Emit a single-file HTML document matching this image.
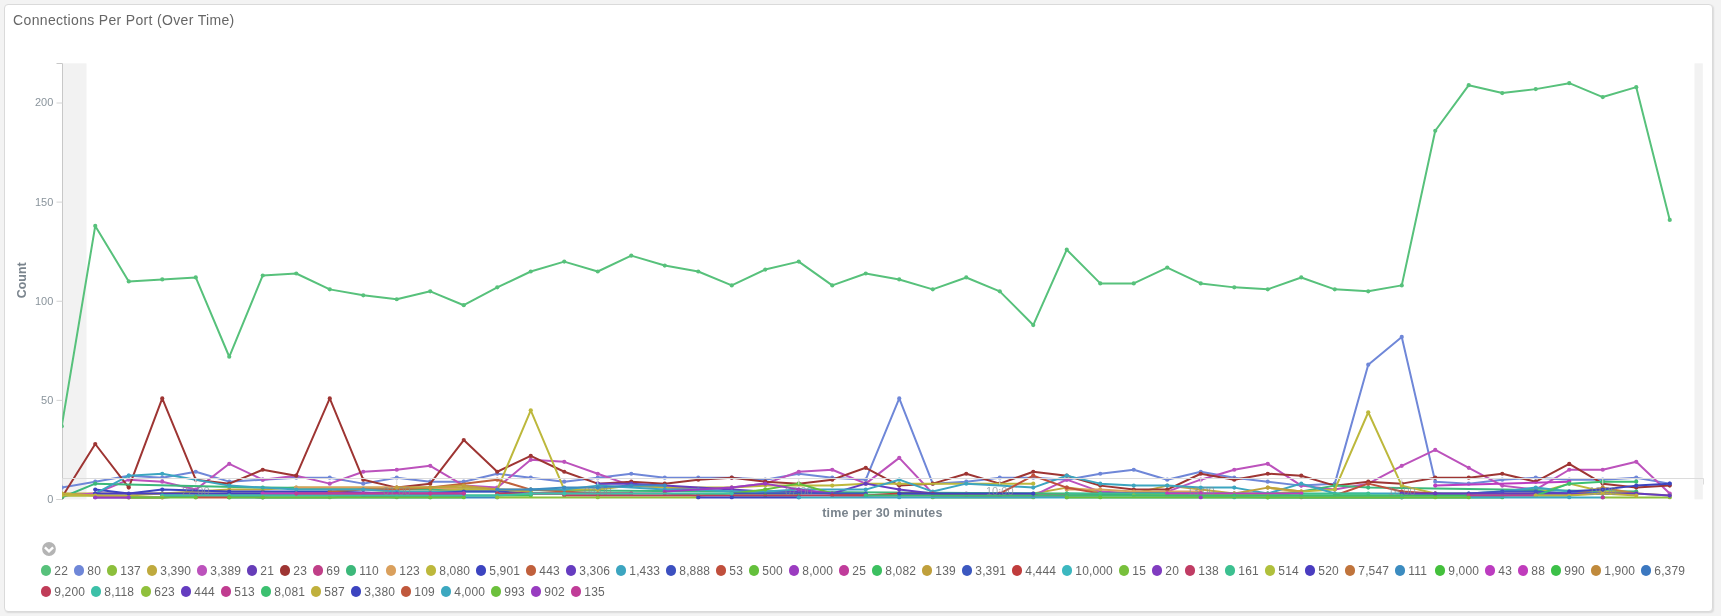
<!DOCTYPE html>
<html lang="en"><head><meta charset="utf-8"><title>Connections Per Port (Over Time)</title>
<style>
html,body{margin:0;padding:0}
body{width:1721px;height:616px;overflow:hidden;background:#f3f3f3;font-family:"Liberation Sans",sans-serif;position:relative}
.panel{position:absolute;left:4px;top:4px;width:1707px;height:606px;background:#fff;border:1px solid #dadada;border-radius:4px;box-sizing:content-box;box-shadow:1px 1px 1.5px rgba(0,0,0,.1)}
.title{position:absolute;left:13.1px;top:11.75px;font-size:14px;line-height:16px;color:#666;letter-spacing:.333px;white-space:nowrap}
.wrap{position:absolute;left:0;top:0;width:1721px;height:616px;will-change:transform}
.chart{position:absolute;left:0;top:0}
.dot{position:absolute;width:10.3px;height:10.3px;border-radius:50%}
.lb{position:absolute;font-size:12px;line-height:15px;color:#666;letter-spacing:.12px;white-space:nowrap}
.tog{position:absolute;left:42px;top:542.2px;width:14px;height:14px}
</style></head><body>
<div class="wrap">
<div class="panel"></div>
<div class="title">Connections Per Port (Over Time)</div>
<svg class="chart" width="1721" height="616" viewBox="0 0 1721 616">
<defs><clipPath id="cp"><rect x="62.2" y="60" width="1648" height="439.6"/></clipPath></defs>
<rect x="63" y="63.3" width="23.5" height="436.1" fill="#f2f2f2"/>
<rect x="1694.5" y="63.3" width="8.3" height="436.1" fill="#f2f2f2"/>
<g class="yaxis" font-family="'Liberation Sans', sans-serif" font-size="11" fill="#8a949c">
<path d="M56.5,63.5H62.5V499.5H56.5" fill="none" stroke="#c8c8c8" stroke-width="1"/>
<line x1="56.5" x2="62.5" y1="499.50" y2="499.50" stroke="#d4d4d4" stroke-width="1"/>
<text x="53.3" y="502.90" text-anchor="end">0</text>
<line x1="56.5" x2="62.5" y1="400.38" y2="400.38" stroke="#d4d4d4" stroke-width="1"/>
<text x="53.3" y="403.77" text-anchor="end">50</text>
<line x1="56.5" x2="62.5" y1="301.25" y2="301.25" stroke="#d4d4d4" stroke-width="1"/>
<text x="53.3" y="304.65" text-anchor="end">100</text>
<line x1="56.5" x2="62.5" y1="202.12" y2="202.12" stroke="#d4d4d4" stroke-width="1"/>
<text x="53.3" y="205.53" text-anchor="end">150</text>
<line x1="56.5" x2="62.5" y1="103.00" y2="103.00" stroke="#d4d4d4" stroke-width="1"/>
<text x="53.3" y="106.40" text-anchor="end">200</text>
</g>
<text transform="translate(26.3,280.3) rotate(-90)" text-anchor="middle" font-family="'Liberation Sans', sans-serif" font-size="12.4" font-weight="bold" fill="#7a848d">Count</text>
<text x="882.4" y="516.8" text-anchor="middle" font-family="'Liberation Sans', sans-serif" font-size="12.5" font-weight="bold" fill="#7a848d" letter-spacing="0.15">time per 30 minutes</text>
<g clip-path="url(#cp)" fill="none" stroke-width="2" stroke-linejoin="round" stroke-linecap="butt">
<g stroke="#57c17b">
<polyline points="61.75,426.15 95.25,225.92 128.75,281.43 162.25,279.44 195.75,277.46 229.25,356.76 262.75,275.48 296.25,273.50 329.75,289.36 363.25,295.30 396.75,299.27 430.25,291.34 463.75,305.22 497.25,287.37 530.75,271.51 564.25,261.60 597.75,271.51 631.25,255.65 664.75,265.56 698.25,271.51 731.75,285.39 765.25,269.53 798.75,261.60 832.25,285.39 865.75,273.50 899.25,279.44 932.75,289.36 966.25,277.46 999.75,291.34 1033.25,325.04 1066.75,249.71 1100.25,283.41 1133.75,283.41 1167.25,267.55 1200.75,283.41 1234.25,287.37 1267.75,289.36 1301.25,277.46 1334.75,289.36 1368.25,291.34 1401.75,285.39 1435.25,130.75 1468.75,85.16 1502.25,93.09 1535.75,89.12 1569.25,83.18 1602.75,97.05 1636.25,87.14 1669.75,219.97"/>
</g>
<g fill="#57c17b" stroke="none">
<circle cx="61.75" cy="426.15" r="2.1"/>
<circle cx="95.25" cy="225.92" r="2.1"/>
<circle cx="128.75" cy="281.43" r="2.1"/>
<circle cx="162.25" cy="279.44" r="2.1"/>
<circle cx="195.75" cy="277.46" r="2.1"/>
<circle cx="229.25" cy="356.76" r="2.1"/>
<circle cx="262.75" cy="275.48" r="2.1"/>
<circle cx="296.25" cy="273.50" r="2.1"/>
<circle cx="329.75" cy="289.36" r="2.1"/>
<circle cx="363.25" cy="295.30" r="2.1"/>
<circle cx="396.75" cy="299.27" r="2.1"/>
<circle cx="430.25" cy="291.34" r="2.1"/>
<circle cx="463.75" cy="305.22" r="2.1"/>
<circle cx="497.25" cy="287.37" r="2.1"/>
<circle cx="530.75" cy="271.51" r="2.1"/>
<circle cx="564.25" cy="261.60" r="2.1"/>
<circle cx="597.75" cy="271.51" r="2.1"/>
<circle cx="631.25" cy="255.65" r="2.1"/>
<circle cx="664.75" cy="265.56" r="2.1"/>
<circle cx="698.25" cy="271.51" r="2.1"/>
<circle cx="731.75" cy="285.39" r="2.1"/>
<circle cx="765.25" cy="269.53" r="2.1"/>
<circle cx="798.75" cy="261.60" r="2.1"/>
<circle cx="832.25" cy="285.39" r="2.1"/>
<circle cx="865.75" cy="273.50" r="2.1"/>
<circle cx="899.25" cy="279.44" r="2.1"/>
<circle cx="932.75" cy="289.36" r="2.1"/>
<circle cx="966.25" cy="277.46" r="2.1"/>
<circle cx="999.75" cy="291.34" r="2.1"/>
<circle cx="1033.25" cy="325.04" r="2.1"/>
<circle cx="1066.75" cy="249.71" r="2.1"/>
<circle cx="1100.25" cy="283.41" r="2.1"/>
<circle cx="1133.75" cy="283.41" r="2.1"/>
<circle cx="1167.25" cy="267.55" r="2.1"/>
<circle cx="1200.75" cy="283.41" r="2.1"/>
<circle cx="1234.25" cy="287.37" r="2.1"/>
<circle cx="1267.75" cy="289.36" r="2.1"/>
<circle cx="1301.25" cy="277.46" r="2.1"/>
<circle cx="1334.75" cy="289.36" r="2.1"/>
<circle cx="1368.25" cy="291.34" r="2.1"/>
<circle cx="1401.75" cy="285.39" r="2.1"/>
<circle cx="1435.25" cy="130.75" r="2.1"/>
<circle cx="1468.75" cy="85.16" r="2.1"/>
<circle cx="1502.25" cy="93.09" r="2.1"/>
<circle cx="1535.75" cy="89.12" r="2.1"/>
<circle cx="1569.25" cy="83.18" r="2.1"/>
<circle cx="1602.75" cy="97.05" r="2.1"/>
<circle cx="1636.25" cy="87.14" r="2.1"/>
<circle cx="1669.75" cy="219.97" r="2.1"/>
</g>
<g stroke="#6f87d8">
<polyline points="61.75,487.61 95.25,481.66 128.75,475.71 162.25,477.69 195.75,471.75 229.25,481.66 262.75,479.68 296.25,477.69 329.75,477.69 363.25,483.64 396.75,477.69 430.25,481.66 463.75,481.66 497.25,473.73 530.75,477.69 564.25,481.66 597.75,477.69 631.25,473.73 664.75,477.69 698.25,477.69 731.75,477.69 765.25,479.68 798.75,473.73 832.25,477.69 865.75,479.68 899.25,398.39 932.75,483.64 966.25,481.66 999.75,477.69 1033.25,477.69 1066.75,479.68 1100.25,473.73 1133.75,469.76 1167.25,479.68 1200.75,471.75 1234.25,477.69 1267.75,481.66 1301.25,485.62 1334.75,483.64 1368.25,364.69 1401.75,336.94 1435.25,481.66 1468.75,483.64 1502.25,479.68 1535.75,477.69 1569.25,479.68 1602.75,479.68 1636.25,477.69 1669.75,483.64"/>
</g>
<g fill="#6f87d8" stroke="none">
<circle cx="61.75" cy="487.61" r="2.1"/>
<circle cx="95.25" cy="481.66" r="2.1"/>
<circle cx="128.75" cy="475.71" r="2.1"/>
<circle cx="162.25" cy="477.69" r="2.1"/>
<circle cx="195.75" cy="471.75" r="2.1"/>
<circle cx="229.25" cy="481.66" r="2.1"/>
<circle cx="262.75" cy="479.68" r="2.1"/>
<circle cx="296.25" cy="477.69" r="2.1"/>
<circle cx="329.75" cy="477.69" r="2.1"/>
<circle cx="363.25" cy="483.64" r="2.1"/>
<circle cx="396.75" cy="477.69" r="2.1"/>
<circle cx="430.25" cy="481.66" r="2.1"/>
<circle cx="463.75" cy="481.66" r="2.1"/>
<circle cx="497.25" cy="473.73" r="2.1"/>
<circle cx="530.75" cy="477.69" r="2.1"/>
<circle cx="564.25" cy="481.66" r="2.1"/>
<circle cx="597.75" cy="477.69" r="2.1"/>
<circle cx="631.25" cy="473.73" r="2.1"/>
<circle cx="664.75" cy="477.69" r="2.1"/>
<circle cx="698.25" cy="477.69" r="2.1"/>
<circle cx="731.75" cy="477.69" r="2.1"/>
<circle cx="765.25" cy="479.68" r="2.1"/>
<circle cx="798.75" cy="473.73" r="2.1"/>
<circle cx="832.25" cy="477.69" r="2.1"/>
<circle cx="865.75" cy="479.68" r="2.1"/>
<circle cx="899.25" cy="398.39" r="2.1"/>
<circle cx="932.75" cy="483.64" r="2.1"/>
<circle cx="966.25" cy="481.66" r="2.1"/>
<circle cx="999.75" cy="477.69" r="2.1"/>
<circle cx="1033.25" cy="477.69" r="2.1"/>
<circle cx="1066.75" cy="479.68" r="2.1"/>
<circle cx="1100.25" cy="473.73" r="2.1"/>
<circle cx="1133.75" cy="469.76" r="2.1"/>
<circle cx="1167.25" cy="479.68" r="2.1"/>
<circle cx="1200.75" cy="471.75" r="2.1"/>
<circle cx="1234.25" cy="477.69" r="2.1"/>
<circle cx="1267.75" cy="481.66" r="2.1"/>
<circle cx="1301.25" cy="485.62" r="2.1"/>
<circle cx="1334.75" cy="483.64" r="2.1"/>
<circle cx="1368.25" cy="364.69" r="2.1"/>
<circle cx="1401.75" cy="336.94" r="2.1"/>
<circle cx="1435.25" cy="481.66" r="2.1"/>
<circle cx="1468.75" cy="483.64" r="2.1"/>
<circle cx="1502.25" cy="479.68" r="2.1"/>
<circle cx="1535.75" cy="477.69" r="2.1"/>
<circle cx="1569.25" cy="479.68" r="2.1"/>
<circle cx="1602.75" cy="479.68" r="2.1"/>
<circle cx="1636.25" cy="477.69" r="2.1"/>
<circle cx="1669.75" cy="483.64" r="2.1"/>
</g>
<g stroke="#8cbf3c">
<polyline points="61.75,495.54 95.25,495.54 128.75,497.52 162.25,497.52 195.75,495.54 229.25,495.54 262.75,497.52 296.25,497.52 329.75,497.52 363.25,495.54 396.75,497.52"/>
</g>
<g fill="#8cbf3c" stroke="none">
<circle cx="61.75" cy="495.54" r="2.1"/>
<circle cx="95.25" cy="495.54" r="2.1"/>
<circle cx="128.75" cy="497.52" r="2.1"/>
<circle cx="162.25" cy="497.52" r="2.1"/>
<circle cx="195.75" cy="495.54" r="2.1"/>
<circle cx="229.25" cy="495.54" r="2.1"/>
<circle cx="262.75" cy="497.52" r="2.1"/>
<circle cx="329.75" cy="497.52" r="2.1"/>
<circle cx="363.25" cy="495.54" r="2.1"/>
<circle cx="396.75" cy="497.52" r="2.1"/>
</g>
<g stroke="#bfaa3e">
<polyline points="61.75,493.55 95.25,493.55 128.75,493.55 162.25,493.55 195.75,491.57 229.25,489.59 262.75,489.59 296.25,487.61 329.75,487.61 363.25,487.61 396.75,487.61 430.25,487.61 463.75,487.61 497.25,489.59"/>
<polyline points="1033.25,493.55 1066.75,487.61 1100.25,491.57 1133.75,493.55 1167.25,485.62 1200.75,489.59 1234.25,493.55 1267.75,493.55 1301.25,491.57"/>
</g>
<g fill="#bfaa3e" stroke="none">
<circle cx="61.75" cy="493.55" r="2.1"/>
<circle cx="162.25" cy="493.55" r="2.1"/>
<circle cx="229.25" cy="489.59" r="2.1"/>
<circle cx="262.75" cy="489.59" r="2.1"/>
<circle cx="296.25" cy="487.61" r="2.1"/>
<circle cx="396.75" cy="487.61" r="2.1"/>
<circle cx="463.75" cy="487.61" r="2.1"/>
<circle cx="497.25" cy="489.59" r="2.1"/>
<circle cx="1033.25" cy="493.55" r="2.1"/>
<circle cx="1066.75" cy="487.61" r="2.1"/>
<circle cx="1100.25" cy="491.57" r="2.1"/>
<circle cx="1133.75" cy="493.55" r="2.1"/>
<circle cx="1167.25" cy="485.62" r="2.1"/>
<circle cx="1234.25" cy="493.55" r="2.1"/>
<circle cx="1267.75" cy="493.55" r="2.1"/>
<circle cx="1301.25" cy="491.57" r="2.1"/>
</g>
<g stroke="#bc52bc">
<polyline points="61.75,495.54 95.25,493.55 128.75,479.68 162.25,481.66 195.75,489.59 229.25,463.81 262.75,479.68 296.25,475.71 329.75,483.64 363.25,471.75 396.75,469.76 430.25,465.80 463.75,485.62 497.25,487.61 530.75,459.85 564.25,461.83 597.75,473.73 631.25,485.62 664.75,487.61 698.25,489.59 731.75,487.61 765.25,483.64 798.75,471.75 832.25,469.76 865.75,483.64 899.25,457.87 932.75,493.55 966.25,493.55 999.75,495.54 1033.25,495.54 1066.75,479.68 1100.25,491.57 1133.75,493.55 1167.25,491.57 1200.75,479.68 1234.25,469.76 1267.75,463.81 1301.25,485.62 1334.75,489.59 1368.25,483.64 1401.75,465.80 1435.25,449.94 1468.75,467.78 1502.25,485.62 1535.75,489.59 1569.25,469.76 1602.75,469.76 1636.25,461.83 1669.75,493.55"/>
</g>
<g fill="#bc52bc" stroke="none">
<circle cx="61.75" cy="495.54" r="2.1"/>
<circle cx="95.25" cy="493.55" r="2.1"/>
<circle cx="128.75" cy="479.68" r="2.1"/>
<circle cx="162.25" cy="481.66" r="2.1"/>
<circle cx="195.75" cy="489.59" r="2.1"/>
<circle cx="229.25" cy="463.81" r="2.1"/>
<circle cx="262.75" cy="479.68" r="2.1"/>
<circle cx="296.25" cy="475.71" r="2.1"/>
<circle cx="329.75" cy="483.64" r="2.1"/>
<circle cx="363.25" cy="471.75" r="2.1"/>
<circle cx="396.75" cy="469.76" r="2.1"/>
<circle cx="430.25" cy="465.80" r="2.1"/>
<circle cx="463.75" cy="485.62" r="2.1"/>
<circle cx="497.25" cy="487.61" r="2.1"/>
<circle cx="530.75" cy="459.85" r="2.1"/>
<circle cx="564.25" cy="461.83" r="2.1"/>
<circle cx="597.75" cy="473.73" r="2.1"/>
<circle cx="631.25" cy="485.62" r="2.1"/>
<circle cx="664.75" cy="487.61" r="2.1"/>
<circle cx="698.25" cy="489.59" r="2.1"/>
<circle cx="731.75" cy="487.61" r="2.1"/>
<circle cx="765.25" cy="483.64" r="2.1"/>
<circle cx="798.75" cy="471.75" r="2.1"/>
<circle cx="832.25" cy="469.76" r="2.1"/>
<circle cx="865.75" cy="483.64" r="2.1"/>
<circle cx="899.25" cy="457.87" r="2.1"/>
<circle cx="932.75" cy="493.55" r="2.1"/>
<circle cx="966.25" cy="493.55" r="2.1"/>
<circle cx="999.75" cy="495.54" r="2.1"/>
<circle cx="1033.25" cy="495.54" r="2.1"/>
<circle cx="1066.75" cy="479.68" r="2.1"/>
<circle cx="1100.25" cy="491.57" r="2.1"/>
<circle cx="1133.75" cy="493.55" r="2.1"/>
<circle cx="1167.25" cy="491.57" r="2.1"/>
<circle cx="1200.75" cy="479.68" r="2.1"/>
<circle cx="1234.25" cy="469.76" r="2.1"/>
<circle cx="1267.75" cy="463.81" r="2.1"/>
<circle cx="1301.25" cy="485.62" r="2.1"/>
<circle cx="1334.75" cy="489.59" r="2.1"/>
<circle cx="1368.25" cy="483.64" r="2.1"/>
<circle cx="1401.75" cy="465.80" r="2.1"/>
<circle cx="1435.25" cy="449.94" r="2.1"/>
<circle cx="1468.75" cy="467.78" r="2.1"/>
<circle cx="1502.25" cy="485.62" r="2.1"/>
<circle cx="1535.75" cy="489.59" r="2.1"/>
<circle cx="1569.25" cy="469.76" r="2.1"/>
<circle cx="1602.75" cy="469.76" r="2.1"/>
<circle cx="1636.25" cy="461.83" r="2.1"/>
<circle cx="1669.75" cy="493.55" r="2.1"/>
</g>
<g stroke="#663db8">
<polyline points="95.25,497.52 128.75,497.52 162.25,497.52 195.75,495.54 229.25,495.54 262.75,497.52"/>
<polyline points="1401.75,493.55 1435.25,493.55 1468.75,495.54 1502.25,495.54 1535.75,493.55 1569.25,493.55 1602.75,493.55 1636.25,493.55"/>
</g>
<g fill="#663db8" stroke="none">
<circle cx="95.25" cy="497.52" r="2.1"/>
<circle cx="162.25" cy="497.52" r="2.1"/>
<circle cx="195.75" cy="495.54" r="2.1"/>
<circle cx="229.25" cy="495.54" r="2.1"/>
<circle cx="262.75" cy="497.52" r="2.1"/>
<circle cx="1401.75" cy="493.55" r="2.1"/>
<circle cx="1435.25" cy="493.55" r="2.1"/>
<circle cx="1468.75" cy="495.54" r="2.1"/>
<circle cx="1502.25" cy="495.54" r="2.1"/>
<circle cx="1535.75" cy="493.55" r="2.1"/>
<circle cx="1636.25" cy="493.55" r="2.1"/>
</g>
<g stroke="#9e3533">
<polyline points="61.75,497.52 95.25,443.99 128.75,487.61 162.25,398.39 195.75,479.68 229.25,483.64 262.75,469.76 296.25,475.71 329.75,398.39 363.25,479.68 396.75,487.61 430.25,483.64 463.75,440.02 497.25,471.75 530.75,455.88 564.25,471.75 597.75,483.64 631.25,481.66 664.75,483.64 698.25,479.68 731.75,477.69 765.25,481.66 798.75,483.64 832.25,479.68 865.75,467.78 899.25,485.62 932.75,483.64 966.25,473.73 999.75,483.64 1033.25,471.75 1066.75,475.71 1100.25,485.62 1133.75,489.59 1167.25,489.59 1200.75,473.73 1234.25,479.68 1267.75,473.73 1301.25,475.71 1334.75,485.62 1368.25,481.66 1401.75,483.64 1435.25,477.69 1468.75,477.69 1502.25,473.73 1535.75,481.66 1569.25,463.81 1602.75,483.64 1636.25,487.61 1669.75,485.62"/>
</g>
<g fill="#9e3533" stroke="none">
<circle cx="61.75" cy="497.52" r="2.1"/>
<circle cx="95.25" cy="443.99" r="2.1"/>
<circle cx="128.75" cy="487.61" r="2.1"/>
<circle cx="162.25" cy="398.39" r="2.1"/>
<circle cx="195.75" cy="479.68" r="2.1"/>
<circle cx="229.25" cy="483.64" r="2.1"/>
<circle cx="262.75" cy="469.76" r="2.1"/>
<circle cx="296.25" cy="475.71" r="2.1"/>
<circle cx="329.75" cy="398.39" r="2.1"/>
<circle cx="363.25" cy="479.68" r="2.1"/>
<circle cx="396.75" cy="487.61" r="2.1"/>
<circle cx="430.25" cy="483.64" r="2.1"/>
<circle cx="463.75" cy="440.02" r="2.1"/>
<circle cx="497.25" cy="471.75" r="2.1"/>
<circle cx="530.75" cy="455.88" r="2.1"/>
<circle cx="564.25" cy="471.75" r="2.1"/>
<circle cx="597.75" cy="483.64" r="2.1"/>
<circle cx="631.25" cy="481.66" r="2.1"/>
<circle cx="664.75" cy="483.64" r="2.1"/>
<circle cx="698.25" cy="479.68" r="2.1"/>
<circle cx="731.75" cy="477.69" r="2.1"/>
<circle cx="765.25" cy="481.66" r="2.1"/>
<circle cx="798.75" cy="483.64" r="2.1"/>
<circle cx="832.25" cy="479.68" r="2.1"/>
<circle cx="865.75" cy="467.78" r="2.1"/>
<circle cx="899.25" cy="485.62" r="2.1"/>
<circle cx="932.75" cy="483.64" r="2.1"/>
<circle cx="966.25" cy="473.73" r="2.1"/>
<circle cx="999.75" cy="483.64" r="2.1"/>
<circle cx="1033.25" cy="471.75" r="2.1"/>
<circle cx="1066.75" cy="475.71" r="2.1"/>
<circle cx="1100.25" cy="485.62" r="2.1"/>
<circle cx="1133.75" cy="489.59" r="2.1"/>
<circle cx="1167.25" cy="489.59" r="2.1"/>
<circle cx="1200.75" cy="473.73" r="2.1"/>
<circle cx="1234.25" cy="479.68" r="2.1"/>
<circle cx="1267.75" cy="473.73" r="2.1"/>
<circle cx="1301.25" cy="475.71" r="2.1"/>
<circle cx="1334.75" cy="485.62" r="2.1"/>
<circle cx="1368.25" cy="481.66" r="2.1"/>
<circle cx="1401.75" cy="483.64" r="2.1"/>
<circle cx="1435.25" cy="477.69" r="2.1"/>
<circle cx="1468.75" cy="477.69" r="2.1"/>
<circle cx="1502.25" cy="473.73" r="2.1"/>
<circle cx="1535.75" cy="481.66" r="2.1"/>
<circle cx="1569.25" cy="463.81" r="2.1"/>
<circle cx="1602.75" cy="483.64" r="2.1"/>
<circle cx="1636.25" cy="487.61" r="2.1"/>
<circle cx="1669.75" cy="485.62" r="2.1"/>
</g>
<g stroke="#c03f88">
<polyline points="229.25,495.54 262.75,495.54 296.25,493.55 329.75,493.55 363.25,495.54 396.75,495.54 430.25,495.54"/>
<polyline points="932.75,495.54 966.25,495.54 999.75,495.54"/>
</g>
<g fill="#c03f88" stroke="none">
<circle cx="229.25" cy="495.54" r="2.1"/>
<circle cx="262.75" cy="495.54" r="2.1"/>
<circle cx="296.25" cy="493.55" r="2.1"/>
<circle cx="329.75" cy="493.55" r="2.1"/>
<circle cx="363.25" cy="495.54" r="2.1"/>
<circle cx="430.25" cy="495.54" r="2.1"/>
<circle cx="932.75" cy="495.54" r="2.1"/>
<circle cx="999.75" cy="495.54" r="2.1"/>
</g>
<g stroke="#3cb87a">
<polyline points="61.75,497.52 95.25,483.64 262.75,487.61 463.75,489.59 731.75,491.57 1066.75,493.55 1267.75,497.52 1301.25,491.57 1334.75,485.62 1368.25,487.61 1502.25,489.59 1636.25,491.57"/>
</g>
<g fill="#3cb87a" stroke="none">
<circle cx="61.75" cy="497.52" r="2.1"/>
<circle cx="95.25" cy="483.64" r="2.1"/>
<circle cx="262.75" cy="487.61" r="2.1"/>
<circle cx="463.75" cy="489.59" r="2.1"/>
<circle cx="731.75" cy="491.57" r="2.1"/>
<circle cx="1066.75" cy="493.55" r="2.1"/>
<circle cx="1267.75" cy="497.52" r="2.1"/>
<circle cx="1334.75" cy="485.62" r="2.1"/>
<circle cx="1368.25" cy="487.61" r="2.1"/>
<circle cx="1636.25" cy="491.57" r="2.1"/>
</g>
<g stroke="#daa05d">
<polyline points="296.25,487.61 329.75,487.61 363.25,487.61 396.75,487.61 430.25,487.61 463.75,489.59 497.25,489.59 530.75,489.59"/>
<polyline points="1066.75,489.59 1100.25,489.59 1133.75,491.57 1167.25,491.57 1200.75,491.57"/>
</g>
<g fill="#daa05d" stroke="none">
<circle cx="296.25" cy="487.61" r="2.1"/>
<circle cx="430.25" cy="487.61" r="2.1"/>
<circle cx="463.75" cy="489.59" r="2.1"/>
<circle cx="530.75" cy="489.59" r="2.1"/>
<circle cx="1066.75" cy="489.59" r="2.1"/>
<circle cx="1100.25" cy="489.59" r="2.1"/>
<circle cx="1133.75" cy="491.57" r="2.1"/>
<circle cx="1200.75" cy="491.57" r="2.1"/>
</g>
<g stroke="#bdb83c">
<polyline points="61.75,495.54 95.25,495.54 128.75,495.54 162.25,493.55 195.75,493.55 229.25,493.55 262.75,493.55 296.25,493.55 329.75,493.55 363.25,493.55 396.75,491.57 430.25,491.57 463.75,489.59 497.25,489.59 530.75,410.29 564.25,489.59 597.75,489.59 631.25,485.62 664.75,487.61 698.25,487.61 731.75,487.61 765.25,485.62 798.75,485.62 832.25,485.62 865.75,483.64 899.25,483.64 932.75,483.64 966.25,483.64 999.75,483.64 1033.25,483.64"/>
<polyline points="1267.75,487.61 1301.25,491.57 1334.75,489.59 1368.25,412.27 1401.75,485.62 1435.25,493.55 1468.75,493.55 1502.25,493.55 1535.75,493.55 1569.25,483.64 1602.75,491.57 1636.25,493.55 1669.75,495.54"/>
</g>
<g fill="#bdb83c" stroke="none">
<circle cx="61.75" cy="495.54" r="2.1"/>
<circle cx="128.75" cy="495.54" r="2.1"/>
<circle cx="162.25" cy="493.55" r="2.1"/>
<circle cx="229.25" cy="493.55" r="2.1"/>
<circle cx="363.25" cy="493.55" r="2.1"/>
<circle cx="396.75" cy="491.57" r="2.1"/>
<circle cx="430.25" cy="491.57" r="2.1"/>
<circle cx="463.75" cy="489.59" r="2.1"/>
<circle cx="497.25" cy="489.59" r="2.1"/>
<circle cx="530.75" cy="410.29" r="2.1"/>
<circle cx="564.25" cy="489.59" r="2.1"/>
<circle cx="597.75" cy="489.59" r="2.1"/>
<circle cx="631.25" cy="485.62" r="2.1"/>
<circle cx="664.75" cy="487.61" r="2.1"/>
<circle cx="731.75" cy="487.61" r="2.1"/>
<circle cx="765.25" cy="485.62" r="2.1"/>
<circle cx="832.25" cy="485.62" r="2.1"/>
<circle cx="865.75" cy="483.64" r="2.1"/>
<circle cx="899.25" cy="483.64" r="2.1"/>
<circle cx="1033.25" cy="483.64" r="2.1"/>
<circle cx="1267.75" cy="487.61" r="2.1"/>
<circle cx="1301.25" cy="491.57" r="2.1"/>
<circle cx="1334.75" cy="489.59" r="2.1"/>
<circle cx="1368.25" cy="412.27" r="2.1"/>
<circle cx="1401.75" cy="485.62" r="2.1"/>
<circle cx="1435.25" cy="493.55" r="2.1"/>
<circle cx="1535.75" cy="493.55" r="2.1"/>
<circle cx="1569.25" cy="483.64" r="2.1"/>
<circle cx="1602.75" cy="491.57" r="2.1"/>
<circle cx="1669.75" cy="495.54" r="2.1"/>
</g>
<g stroke="#3c44c0">
<polyline points="95.25,489.59 128.75,493.55 162.25,489.59 229.25,491.57 329.75,491.57 463.75,495.54"/>
</g>
<g fill="#3c44c0" stroke="none">
<circle cx="95.25" cy="489.59" r="2.1"/>
<circle cx="128.75" cy="493.55" r="2.1"/>
<circle cx="162.25" cy="489.59" r="2.1"/>
<circle cx="229.25" cy="491.57" r="2.1"/>
<circle cx="329.75" cy="491.57" r="2.1"/>
<circle cx="463.75" cy="495.54" r="2.1"/>
</g>
<g stroke="#c0603c">
<polyline points="329.75,491.57 363.25,489.59 396.75,489.59 430.25,487.61 463.75,483.64 497.25,479.68 530.75,489.59 564.25,491.57 597.75,493.55 631.25,493.55"/>
</g>
<g fill="#c0603c" stroke="none">
<circle cx="329.75" cy="491.57" r="2.1"/>
<circle cx="363.25" cy="489.59" r="2.1"/>
<circle cx="396.75" cy="489.59" r="2.1"/>
<circle cx="430.25" cy="487.61" r="2.1"/>
<circle cx="497.25" cy="479.68" r="2.1"/>
<circle cx="530.75" cy="489.59" r="2.1"/>
<circle cx="597.75" cy="493.55" r="2.1"/>
<circle cx="631.25" cy="493.55" r="2.1"/>
</g>
<g stroke="#663cc0">
<polyline points="597.75,483.64 631.25,483.64 664.75,485.62 698.25,487.61 731.75,489.59 765.25,491.57 798.75,491.57 832.25,493.55 865.75,483.64 899.25,489.59 932.75,493.55"/>
</g>
<g fill="#663cc0" stroke="none">
<circle cx="597.75" cy="483.64" r="2.1"/>
<circle cx="631.25" cy="483.64" r="2.1"/>
<circle cx="731.75" cy="489.59" r="2.1"/>
<circle cx="765.25" cy="491.57" r="2.1"/>
<circle cx="798.75" cy="491.57" r="2.1"/>
<circle cx="832.25" cy="493.55" r="2.1"/>
<circle cx="865.75" cy="483.64" r="2.1"/>
<circle cx="899.25" cy="489.59" r="2.1"/>
<circle cx="932.75" cy="493.55" r="2.1"/>
</g>
<g stroke="#3ca5c0">
<polyline points="95.25,493.55 128.75,475.71 162.25,473.73 195.75,479.68 229.25,485.62 262.75,487.61 296.25,489.59 329.75,489.59 363.25,489.59 396.75,491.57 430.25,491.57 463.75,491.57 497.25,491.57 530.75,489.59 564.25,489.59 597.75,485.62 631.25,487.61 664.75,489.59 698.25,489.59 731.75,491.57 765.25,491.57 798.75,489.59 832.25,489.59 865.75,489.59 899.25,479.68 932.75,491.57 966.25,483.64 999.75,485.62 1033.25,487.61 1066.75,475.71 1100.25,483.64 1133.75,485.62 1167.25,485.62 1200.75,487.61 1234.25,487.61 1267.75,493.55 1301.25,483.64 1334.75,493.55 1368.25,493.55 1401.75,493.55 1435.25,493.55 1468.75,493.55 1502.25,491.57 1535.75,487.61 1569.25,491.57 1602.75,493.55"/>
</g>
<g fill="#3ca5c0" stroke="none">
<circle cx="95.25" cy="493.55" r="2.1"/>
<circle cx="128.75" cy="475.71" r="2.1"/>
<circle cx="162.25" cy="473.73" r="2.1"/>
<circle cx="229.25" cy="485.62" r="2.1"/>
<circle cx="296.25" cy="489.59" r="2.1"/>
<circle cx="363.25" cy="489.59" r="2.1"/>
<circle cx="396.75" cy="491.57" r="2.1"/>
<circle cx="497.25" cy="491.57" r="2.1"/>
<circle cx="530.75" cy="489.59" r="2.1"/>
<circle cx="564.25" cy="489.59" r="2.1"/>
<circle cx="597.75" cy="485.62" r="2.1"/>
<circle cx="664.75" cy="489.59" r="2.1"/>
<circle cx="698.25" cy="489.59" r="2.1"/>
<circle cx="731.75" cy="491.57" r="2.1"/>
<circle cx="765.25" cy="491.57" r="2.1"/>
<circle cx="798.75" cy="489.59" r="2.1"/>
<circle cx="865.75" cy="489.59" r="2.1"/>
<circle cx="899.25" cy="479.68" r="2.1"/>
<circle cx="932.75" cy="491.57" r="2.1"/>
<circle cx="966.25" cy="483.64" r="2.1"/>
<circle cx="1033.25" cy="487.61" r="2.1"/>
<circle cx="1066.75" cy="475.71" r="2.1"/>
<circle cx="1100.25" cy="483.64" r="2.1"/>
<circle cx="1133.75" cy="485.62" r="2.1"/>
<circle cx="1167.25" cy="485.62" r="2.1"/>
<circle cx="1200.75" cy="487.61" r="2.1"/>
<circle cx="1234.25" cy="487.61" r="2.1"/>
<circle cx="1267.75" cy="493.55" r="2.1"/>
<circle cx="1301.25" cy="483.64" r="2.1"/>
<circle cx="1334.75" cy="493.55" r="2.1"/>
<circle cx="1401.75" cy="493.55" r="2.1"/>
<circle cx="1468.75" cy="493.55" r="2.1"/>
<circle cx="1502.25" cy="491.57" r="2.1"/>
<circle cx="1535.75" cy="487.61" r="2.1"/>
<circle cx="1569.25" cy="491.57" r="2.1"/>
<circle cx="1602.75" cy="493.55" r="2.1"/>
</g>
<g stroke="#3c50c0">
<polyline points="363.25,493.55 396.75,493.55 430.25,493.55 463.75,491.57 497.25,491.57 530.75,493.55 564.25,493.55"/>
<polyline points="1100.25,493.55 1133.75,493.55 1167.25,493.55 1200.75,493.55"/>
</g>
<g fill="#3c50c0" stroke="none">
<circle cx="363.25" cy="493.55" r="2.1"/>
<circle cx="396.75" cy="493.55" r="2.1"/>
<circle cx="430.25" cy="493.55" r="2.1"/>
<circle cx="463.75" cy="491.57" r="2.1"/>
<circle cx="497.25" cy="491.57" r="2.1"/>
<circle cx="530.75" cy="493.55" r="2.1"/>
<circle cx="564.25" cy="493.55" r="2.1"/>
<circle cx="1100.25" cy="493.55" r="2.1"/>
<circle cx="1200.75" cy="493.55" r="2.1"/>
</g>
<g stroke="#c04f3c">
<polyline points="999.75,493.55 1033.25,475.71 1066.75,487.61 1100.25,493.55"/>
<polyline points="1334.75,495.54 1368.25,483.64 1401.75,491.57 1435.25,493.55"/>
</g>
<g fill="#c04f3c" stroke="none">
<circle cx="999.75" cy="493.55" r="2.1"/>
<circle cx="1033.25" cy="475.71" r="2.1"/>
<circle cx="1066.75" cy="487.61" r="2.1"/>
<circle cx="1100.25" cy="493.55" r="2.1"/>
<circle cx="1334.75" cy="495.54" r="2.1"/>
<circle cx="1368.25" cy="483.64" r="2.1"/>
<circle cx="1401.75" cy="491.57" r="2.1"/>
<circle cx="1435.25" cy="493.55" r="2.1"/>
</g>
<g stroke="#64c03c">
<polyline points="698.25,495.54 731.75,493.55 765.25,489.59 798.75,483.64 832.25,493.55 865.75,495.54"/>
</g>
<g fill="#64c03c" stroke="none">
<circle cx="698.25" cy="495.54" r="2.1"/>
<circle cx="731.75" cy="493.55" r="2.1"/>
<circle cx="765.25" cy="489.59" r="2.1"/>
<circle cx="798.75" cy="483.64" r="2.1"/>
<circle cx="832.25" cy="493.55" r="2.1"/>
<circle cx="865.75" cy="495.54" r="2.1"/>
</g>
<g stroke="#9b3cc0">
<polyline points="664.75,491.57 698.25,489.59 731.75,487.61 765.25,483.64 798.75,489.59 832.25,493.55"/>
</g>
<g fill="#9b3cc0" stroke="none">
<circle cx="664.75" cy="491.57" r="2.1"/>
<circle cx="731.75" cy="487.61" r="2.1"/>
<circle cx="765.25" cy="483.64" r="2.1"/>
<circle cx="798.75" cy="489.59" r="2.1"/>
<circle cx="832.25" cy="493.55" r="2.1"/>
</g>
<g stroke="#c03c9b">
<polyline points="530.75,493.55 564.25,493.55 597.75,493.55 631.25,493.55"/>
<polyline points="1167.25,493.55 1200.75,493.55 1234.25,493.55"/>
</g>
<g fill="#c03c9b" stroke="none">
<circle cx="530.75" cy="493.55" r="2.1"/>
<circle cx="631.25" cy="493.55" r="2.1"/>
<circle cx="1167.25" cy="493.55" r="2.1"/>
<circle cx="1200.75" cy="493.55" r="2.1"/>
<circle cx="1234.25" cy="493.55" r="2.1"/>
</g>
<g stroke="#3cc060">
<polyline points="396.75,495.54 430.25,495.54 463.75,495.54 497.25,495.54 530.75,495.54"/>
<polyline points="1401.75,495.54 1435.25,495.54 1468.75,495.54 1502.25,495.54 1535.75,495.54 1569.25,495.54"/>
</g>
<g fill="#3cc060" stroke="none">
<circle cx="396.75" cy="495.54" r="2.1"/>
<circle cx="530.75" cy="495.54" r="2.1"/>
<circle cx="1401.75" cy="495.54" r="2.1"/>
<circle cx="1569.25" cy="495.54" r="2.1"/>
</g>
<g stroke="#c0a03c">
<polyline points="396.75,487.61 430.25,487.61 463.75,485.62 497.25,489.59 530.75,491.57"/>
<polyline points="1234.25,493.55 1267.75,487.61 1301.25,491.57"/>
</g>
<g fill="#c0a03c" stroke="none">
<circle cx="396.75" cy="487.61" r="2.1"/>
<circle cx="430.25" cy="487.61" r="2.1"/>
<circle cx="463.75" cy="485.62" r="2.1"/>
<circle cx="497.25" cy="489.59" r="2.1"/>
<circle cx="530.75" cy="491.57" r="2.1"/>
<circle cx="1234.25" cy="493.55" r="2.1"/>
<circle cx="1267.75" cy="487.61" r="2.1"/>
<circle cx="1301.25" cy="491.57" r="2.1"/>
</g>
<g stroke="#3c58c0">
<polyline points="731.75,493.55 765.25,493.55 798.75,493.55 832.25,493.55 865.75,493.55"/>
<polyline points="1468.75,493.55 1502.25,491.57 1535.75,491.57 1569.25,493.55"/>
</g>
<g fill="#3c58c0" stroke="none">
<circle cx="731.75" cy="493.55" r="2.1"/>
<circle cx="865.75" cy="493.55" r="2.1"/>
<circle cx="1468.75" cy="493.55" r="2.1"/>
<circle cx="1502.25" cy="491.57" r="2.1"/>
<circle cx="1535.75" cy="491.57" r="2.1"/>
<circle cx="1569.25" cy="493.55" r="2.1"/>
</g>
<g stroke="#c03c3c">
<polyline points="832.25,495.54 865.75,495.54 899.25,493.55 932.75,493.55 966.25,495.54 999.75,495.54"/>
</g>
<g fill="#c03c3c" stroke="none">
<circle cx="832.25" cy="495.54" r="2.1"/>
<circle cx="865.75" cy="495.54" r="2.1"/>
<circle cx="899.25" cy="493.55" r="2.1"/>
<circle cx="932.75" cy="493.55" r="2.1"/>
<circle cx="966.25" cy="495.54" r="2.1"/>
<circle cx="999.75" cy="495.54" r="2.1"/>
</g>
<g stroke="#3cb8c0">
<polyline points="162.25,495.54 195.75,495.54 229.25,495.54 262.75,495.54"/>
<polyline points="1267.75,495.54 1301.25,495.54 1334.75,495.54 1368.25,495.54 1401.75,495.54"/>
</g>
<g fill="#3cb8c0" stroke="none">
<circle cx="162.25" cy="495.54" r="2.1"/>
<circle cx="262.75" cy="495.54" r="2.1"/>
<circle cx="1267.75" cy="495.54" r="2.1"/>
<circle cx="1301.25" cy="495.54" r="2.1"/>
<circle cx="1401.75" cy="495.54" r="2.1"/>
</g>
<g stroke="#78c03c">
<polyline points="932.75,497.52 966.25,497.52 999.75,497.52 1033.25,497.52"/>
</g>
<g fill="#78c03c" stroke="none">
<circle cx="932.75" cy="497.52" r="2.1"/>
<circle cx="1033.25" cy="497.52" r="2.1"/>
</g>
<g stroke="#803cc0">
<polyline points="1033.25,495.54 1066.75,495.54 1100.25,495.54"/>
</g>
<g fill="#803cc0" stroke="none">
<circle cx="1033.25" cy="495.54" r="2.1"/>
<circle cx="1100.25" cy="495.54" r="2.1"/>
</g>
<g stroke="#c03c64">
<polyline points="564.25,495.54 597.75,495.54 631.25,495.54 664.75,495.54 698.25,495.54"/>
</g>
<g fill="#c03c64" stroke="none">
<circle cx="564.25" cy="495.54" r="2.1"/>
<circle cx="597.75" cy="495.54" r="2.1"/>
<circle cx="698.25" cy="495.54" r="2.1"/>
</g>
<g stroke="#3cc090">
<polyline points="1066.75,493.55 1100.25,493.55 1133.75,493.55 1167.25,493.55 1200.75,493.55 1234.25,493.55 1267.75,493.55 1301.25,493.55 1334.75,493.55 1368.25,493.55"/>
</g>
<g fill="#3cc090" stroke="none">
<circle cx="1066.75" cy="493.55" r="2.1"/>
<circle cx="1100.25" cy="493.55" r="2.1"/>
<circle cx="1267.75" cy="493.55" r="2.1"/>
<circle cx="1368.25" cy="493.55" r="2.1"/>
</g>
<g stroke="#b0c03c">
<polyline points="1133.75,495.54 1167.25,495.54 1200.75,495.54 1234.25,493.55 1267.75,495.54"/>
</g>
<g fill="#b0c03c" stroke="none">
<circle cx="1133.75" cy="495.54" r="2.1"/>
<circle cx="1200.75" cy="495.54" r="2.1"/>
<circle cx="1234.25" cy="493.55" r="2.1"/>
<circle cx="1267.75" cy="495.54" r="2.1"/>
</g>
<g stroke="#4a3cc0">
<polyline points="95.25,493.55 195.75,493.55 363.25,493.55"/>
</g>
<g fill="#4a3cc0" stroke="none">
<circle cx="95.25" cy="493.55" r="2.1"/>
<circle cx="363.25" cy="493.55" r="2.1"/>
</g>
<g stroke="#c0743c">
<polyline points="1301.25,497.52 1334.75,497.52 1368.25,497.52 1401.75,497.52"/>
</g>
<g fill="#c0743c" stroke="none">
<circle cx="1301.25" cy="497.52" r="2.1"/>
<circle cx="1401.75" cy="497.52" r="2.1"/>
</g>
<g stroke="#3c8cc0">
<polyline points="497.25,489.59 530.75,489.59 564.25,487.61 597.75,487.61 631.25,485.62 664.75,485.62"/>
<polyline points="229.25,497.52 262.75,497.52 296.25,497.52 329.75,497.52 363.25,497.52 396.75,497.52 430.25,497.52 463.75,497.52 497.25,497.52"/>
</g>
<g fill="#3c8cc0" stroke="none">
<circle cx="497.25" cy="489.59" r="2.1"/>
<circle cx="530.75" cy="489.59" r="2.1"/>
<circle cx="564.25" cy="487.61" r="2.1"/>
<circle cx="597.75" cy="487.61" r="2.1"/>
<circle cx="631.25" cy="485.62" r="2.1"/>
<circle cx="664.75" cy="485.62" r="2.1"/>
<circle cx="229.25" cy="497.52" r="2.1"/>
<circle cx="262.75" cy="497.52" r="2.1"/>
<circle cx="430.25" cy="497.52" r="2.1"/>
<circle cx="497.25" cy="497.52" r="2.1"/>
</g>
<g stroke="#44c03c">
<polyline points="1267.75,497.52 1301.25,497.52 1334.75,497.52 1368.25,497.52 1401.75,497.52 1435.25,497.52 1468.75,497.52 1502.25,497.52"/>
</g>
<g fill="#44c03c" stroke="none">
<circle cx="1267.75" cy="497.52" r="2.1"/>
<circle cx="1401.75" cy="497.52" r="2.1"/>
<circle cx="1502.25" cy="497.52" r="2.1"/>
</g>
<g stroke="#bc3cc0">
<polyline points="1435.25,485.62 1569.25,481.66"/>
</g>
<g fill="#bc3cc0" stroke="none">
<circle cx="1435.25" cy="485.62" r="2.1"/>
<circle cx="1569.25" cy="481.66" r="2.1"/>
</g>
<g stroke="#c03cbc">
<polyline points="262.75,493.55 296.25,493.55 329.75,493.55 363.25,493.55 396.75,493.55 430.25,493.55 463.75,493.55"/>
<polyline points="1167.25,493.55 1200.75,493.55 1234.25,493.55 1267.75,493.55 1301.25,493.55"/>
</g>
<g fill="#c03cbc" stroke="none">
<circle cx="262.75" cy="493.55" r="2.1"/>
<circle cx="363.25" cy="493.55" r="2.1"/>
<circle cx="463.75" cy="493.55" r="2.1"/>
<circle cx="1167.25" cy="493.55" r="2.1"/>
<circle cx="1200.75" cy="493.55" r="2.1"/>
<circle cx="1301.25" cy="493.55" r="2.1"/>
</g>
<g stroke="#3cc048">
<polyline points="731.75,495.54 765.25,495.54 798.75,495.54"/>
</g>
<g fill="#3cc048" stroke="none">
<circle cx="731.75" cy="495.54" r="2.1"/>
<circle cx="765.25" cy="495.54" r="2.1"/>
<circle cx="798.75" cy="495.54" r="2.1"/>
</g>
<g stroke="#c08a3c">
<polyline points="1569.25,495.54 1602.75,487.61 1636.25,493.55"/>
</g>
<g fill="#c08a3c" stroke="none">
<circle cx="1569.25" cy="495.54" r="2.1"/>
<circle cx="1602.75" cy="487.61" r="2.1"/>
<circle cx="1636.25" cy="493.55" r="2.1"/>
</g>
<g stroke="#3c78c0">
<polyline points="363.25,495.54 396.75,495.54 430.25,495.54 463.75,495.54"/>
</g>
<g fill="#3c78c0" stroke="none">
<circle cx="363.25" cy="495.54" r="2.1"/>
<circle cx="396.75" cy="495.54" r="2.1"/>
<circle cx="463.75" cy="495.54" r="2.1"/>
</g>
<g stroke="#c03c58">
<polyline points="497.25,493.55 530.75,493.55 564.25,493.55 597.75,493.55 631.25,493.55 664.75,493.55 698.25,495.54 731.75,495.54 765.25,495.54 798.75,495.54 832.25,495.54 865.75,495.54 899.25,495.54 932.75,495.54 966.25,495.54 999.75,495.54 1033.25,495.54 1066.75,495.54"/>
</g>
<g fill="#c03c58" stroke="none">
<circle cx="497.25" cy="493.55" r="2.1"/>
<circle cx="564.25" cy="493.55" r="2.1"/>
<circle cx="664.75" cy="493.55" r="2.1"/>
<circle cx="698.25" cy="495.54" r="2.1"/>
<circle cx="731.75" cy="495.54" r="2.1"/>
<circle cx="899.25" cy="495.54" r="2.1"/>
<circle cx="1066.75" cy="495.54" r="2.1"/>
</g>
<g stroke="#3cc0a8">
<polyline points="162.25,495.54 195.75,495.54 229.25,495.54 262.75,495.54 296.25,495.54 329.75,495.54 363.25,495.54 396.75,495.54 430.25,495.54 463.75,495.54 497.25,495.54 530.75,493.55 564.25,493.55 597.75,493.55 631.25,493.55 664.75,493.55 698.25,493.55 731.75,493.55"/>
</g>
<g fill="#3cc0a8" stroke="none">
<circle cx="162.25" cy="495.54" r="2.1"/>
<circle cx="229.25" cy="495.54" r="2.1"/>
<circle cx="396.75" cy="495.54" r="2.1"/>
<circle cx="497.25" cy="495.54" r="2.1"/>
<circle cx="530.75" cy="493.55" r="2.1"/>
<circle cx="564.25" cy="493.55" r="2.1"/>
<circle cx="731.75" cy="493.55" r="2.1"/>
</g>
<g stroke="#90c03c">
<polyline points="497.25,497.52 530.75,497.52 564.25,497.52 597.75,497.52 631.25,497.52 664.75,497.52 698.25,497.52"/>
<polyline points="1602.75,497.52 1636.25,497.52 1669.75,497.52"/>
</g>
<g fill="#90c03c" stroke="none">
<circle cx="497.25" cy="497.52" r="2.1"/>
<circle cx="597.75" cy="497.52" r="2.1"/>
<circle cx="698.25" cy="497.52" r="2.1"/>
<circle cx="1602.75" cy="497.52" r="2.1"/>
<circle cx="1669.75" cy="497.52" r="2.1"/>
</g>
<g stroke="#643cc0">
<polyline points="1401.75,493.55 1435.25,493.55 1468.75,493.55 1502.25,493.55 1535.75,493.55 1569.25,493.55 1602.75,493.55 1636.25,493.55 1669.75,495.54"/>
</g>
<g fill="#643cc0" stroke="none">
<circle cx="1401.75" cy="493.55" r="2.1"/>
<circle cx="1435.25" cy="493.55" r="2.1"/>
<circle cx="1602.75" cy="493.55" r="2.1"/>
<circle cx="1636.25" cy="493.55" r="2.1"/>
<circle cx="1669.75" cy="495.54" r="2.1"/>
</g>
<g stroke="#c03c90">
<polyline points="1468.75,495.54 1502.25,495.54 1535.75,495.54"/>
</g>
<g fill="#c03c90" stroke="none">
<circle cx="1468.75" cy="495.54" r="2.1"/>
<circle cx="1535.75" cy="495.54" r="2.1"/>
</g>
<g stroke="#3cc070">
<polyline points="865.75,495.54 899.25,495.54 932.75,495.54 966.25,495.54 999.75,495.54 1033.25,495.54 1066.75,495.54 1100.25,495.54 1133.75,495.54 1167.25,495.54 1200.75,495.54 1234.25,495.54 1267.75,495.54 1301.25,495.54 1334.75,495.54 1368.25,495.54 1401.75,495.54"/>
<polyline points="1535.75,495.54 1569.25,483.64 1602.75,481.66 1636.25,481.66"/>
</g>
<g fill="#3cc070" stroke="none">
<circle cx="865.75" cy="495.54" r="2.1"/>
<circle cx="899.25" cy="495.54" r="2.1"/>
<circle cx="1066.75" cy="495.54" r="2.1"/>
<circle cx="1234.25" cy="495.54" r="2.1"/>
<circle cx="1401.75" cy="495.54" r="2.1"/>
<circle cx="1535.75" cy="495.54" r="2.1"/>
<circle cx="1569.25" cy="483.64" r="2.1"/>
<circle cx="1602.75" cy="481.66" r="2.1"/>
<circle cx="1636.25" cy="481.66" r="2.1"/>
</g>
<g stroke="#c0b03c">
<polyline points="61.75,493.55 95.25,495.54 128.75,497.52 162.25,497.52"/>
<polyline points="1535.75,495.54 1569.25,495.54 1602.75,493.55 1636.25,495.54"/>
</g>
<g fill="#c0b03c" stroke="none">
<circle cx="61.75" cy="493.55" r="2.1"/>
<circle cx="95.25" cy="495.54" r="2.1"/>
<circle cx="128.75" cy="497.52" r="2.1"/>
<circle cx="162.25" cy="497.52" r="2.1"/>
<circle cx="1535.75" cy="495.54" r="2.1"/>
<circle cx="1569.25" cy="495.54" r="2.1"/>
<circle cx="1602.75" cy="493.55" r="2.1"/>
<circle cx="1636.25" cy="495.54" r="2.1"/>
</g>
<g stroke="#3c44c0">
<polyline points="698.25,497.52 731.75,497.52 765.25,497.52 798.75,497.52"/>
<polyline points="899.25,493.55 932.75,493.55 966.25,493.55 999.75,493.55 1033.25,493.55"/>
<polyline points="1569.25,491.57 1602.75,489.59 1636.25,485.62 1669.75,483.64"/>
</g>
<g fill="#3c44c0" stroke="none">
<circle cx="698.25" cy="497.52" r="2.1"/>
<circle cx="731.75" cy="497.52" r="2.1"/>
<circle cx="798.75" cy="497.52" r="2.1"/>
<circle cx="899.25" cy="493.55" r="2.1"/>
<circle cx="1033.25" cy="493.55" r="2.1"/>
<circle cx="1569.25" cy="491.57" r="2.1"/>
<circle cx="1602.75" cy="489.59" r="2.1"/>
<circle cx="1636.25" cy="485.62" r="2.1"/>
<circle cx="1669.75" cy="483.64" r="2.1"/>
</g>
<g stroke="#c0583c">
<polyline points="195.75,497.52 229.25,497.52"/>
</g>
<g fill="#c0583c" stroke="none">
<circle cx="195.75" cy="497.52" r="2.1"/>
<circle cx="229.25" cy="497.52" r="2.1"/>
</g>
<g stroke="#3ca8c0">
<polyline points="798.75,497.52 832.25,497.52 865.75,497.52 899.25,497.52 932.75,497.52 966.25,497.52 999.75,497.52 1033.25,497.52 1066.75,497.52 1100.25,497.52 1133.75,497.52 1167.25,497.52 1200.75,497.52 1234.25,497.52 1267.75,497.52 1301.25,497.52 1334.75,497.52 1368.25,497.52 1401.75,497.52 1435.25,497.52 1468.75,497.52 1502.25,497.52 1535.75,497.52 1569.25,497.52 1602.75,497.52"/>
</g>
<g fill="#3ca8c0" stroke="none">
<circle cx="798.75" cy="497.52" r="2.1"/>
<circle cx="899.25" cy="497.52" r="2.1"/>
<circle cx="1066.75" cy="497.52" r="2.1"/>
<circle cx="1234.25" cy="497.52" r="2.1"/>
<circle cx="1401.75" cy="497.52" r="2.1"/>
<circle cx="1569.25" cy="497.52" r="2.1"/>
<circle cx="1602.75" cy="497.52" r="2.1"/>
</g>
<g stroke="#6cc03c">
<polyline points="128.75,497.52 162.25,497.52 195.75,497.52"/>
<polyline points="229.25,497.52 262.75,497.52 296.25,497.52 329.75,497.52 363.25,497.52 396.75,497.52 430.25,497.52 463.75,497.52"/>
<polyline points="1066.75,497.52 1100.25,497.52 1133.75,497.52 1167.25,497.52 1200.75,497.52 1234.25,497.52 1267.75,497.52 1301.25,497.52 1334.75,497.52 1368.25,497.52 1401.75,497.52 1435.25,497.52 1468.75,497.52"/>
</g>
<g fill="#6cc03c" stroke="none">
<circle cx="128.75" cy="497.52" r="2.1"/>
<circle cx="195.75" cy="497.52" r="2.1"/>
<circle cx="229.25" cy="497.52" r="2.1"/>
<circle cx="262.75" cy="497.52" r="2.1"/>
<circle cx="430.25" cy="497.52" r="2.1"/>
<circle cx="463.75" cy="497.52" r="2.1"/>
<circle cx="1066.75" cy="497.52" r="2.1"/>
<circle cx="1100.25" cy="497.52" r="2.1"/>
<circle cx="1267.75" cy="497.52" r="2.1"/>
<circle cx="1435.25" cy="497.52" r="2.1"/>
<circle cx="1468.75" cy="497.52" r="2.1"/>
</g>
<g stroke="#983cc0">
<polyline points="95.25,497.52 128.75,497.52"/>
</g>
<g fill="#983cc0" stroke="none">
<circle cx="95.25" cy="497.52" r="2.1"/>
<circle cx="128.75" cy="497.52" r="2.1"/>
<circle cx="1200.75" cy="497.52" r="2.1"/>
</g>
<g stroke="#c03c98">
<polyline points="296.25,493.55 329.75,493.55 363.25,493.55 396.75,493.55 430.25,493.55 463.75,493.55"/>
</g>
<g fill="#c03c98" stroke="none">
<circle cx="296.25" cy="493.55" r="2.1"/>
<circle cx="430.25" cy="493.55" r="2.1"/>
<circle cx="463.75" cy="493.55" r="2.1"/>
<circle cx="1602.75" cy="497.52" r="2.1"/>
</g>
</g>
<g class="xaxis" font-family="'Liberation Sans', sans-serif" font-size="11" fill="#848e96" fill-opacity="0.72" text-anchor="middle">
<path d="M62.5,484.5V478.5H1703.5V484.5" fill="none" stroke="#dcdcdc" stroke-width="1"/>
<line x1="195.75" x2="195.75" y1="478.5" y2="484.5" stroke="#dcdcdc" stroke-width="1"/>
<text x="195.75" y="495.3">22:00</text>
<line x1="396.75" x2="396.75" y1="478.5" y2="484.5" stroke="#dcdcdc" stroke-width="1"/>
<text x="396.75" y="495.3">01:00</text>
<line x1="597.75" x2="597.75" y1="478.5" y2="484.5" stroke="#dcdcdc" stroke-width="1"/>
<text x="597.75" y="495.3">04:00</text>
<line x1="798.75" x2="798.75" y1="478.5" y2="484.5" stroke="#dcdcdc" stroke-width="1"/>
<text x="798.75" y="495.3">07:00</text>
<line x1="999.75" x2="999.75" y1="478.5" y2="484.5" stroke="#dcdcdc" stroke-width="1"/>
<text x="999.75" y="495.3">10:00</text>
<line x1="1200.75" x2="1200.75" y1="478.5" y2="484.5" stroke="#dcdcdc" stroke-width="1"/>
<text x="1200.75" y="495.3">13:00</text>
<line x1="1401.75" x2="1401.75" y1="478.5" y2="484.5" stroke="#dcdcdc" stroke-width="1"/>
<text x="1401.75" y="495.3">16:00</text>
<line x1="1602.75" x2="1602.75" y1="478.5" y2="484.5" stroke="#dcdcdc" stroke-width="1"/>
<text x="1602.75" y="495.3">19:00</text>
</g>
</svg>
<svg class="tog" viewBox="0 0 14 14"><circle cx="7" cy="7" r="6.9" fill="#b4b4b4"/><path d="M2.9,5.3L7,9.4L11.1,5.3" fill="none" stroke="#fff" stroke-width="2.4" stroke-linejoin="miter"/></svg>
<div class="legend">
<i class="dot" style="left:41.10px;top:565.35px;background:#57c17b"></i><span class="lb" style="left:54.35px;top:563.75px">22</span>
<i class="dot" style="left:74.10px;top:565.35px;background:#6f87d8"></i><span class="lb" style="left:87.35px;top:563.75px">80</span>
<i class="dot" style="left:107.10px;top:565.35px;background:#8cbf3c"></i><span class="lb" style="left:120.35px;top:563.75px">137</span>
<i class="dot" style="left:147.10px;top:565.35px;background:#bfaa3e"></i><span class="lb" style="left:160.35px;top:563.75px">3,390</span>
<i class="dot" style="left:197.10px;top:565.35px;background:#bc52bc"></i><span class="lb" style="left:210.35px;top:563.75px">3,389</span>
<i class="dot" style="left:247.10px;top:565.35px;background:#663db8"></i><span class="lb" style="left:260.35px;top:563.75px">21</span>
<i class="dot" style="left:280.10px;top:565.35px;background:#9e3533"></i><span class="lb" style="left:293.35px;top:563.75px">23</span>
<i class="dot" style="left:313.10px;top:565.35px;background:#c03f88"></i><span class="lb" style="left:326.35px;top:563.75px">69</span>
<i class="dot" style="left:346.10px;top:565.35px;background:#3cb87a"></i><span class="lb" style="left:359.35px;top:563.75px">110</span>
<i class="dot" style="left:386.10px;top:565.35px;background:#daa05d"></i><span class="lb" style="left:399.35px;top:563.75px">123</span>
<i class="dot" style="left:426.10px;top:565.35px;background:#bdb83c"></i><span class="lb" style="left:439.35px;top:563.75px">8,080</span>
<i class="dot" style="left:476.10px;top:565.35px;background:#3c44c0"></i><span class="lb" style="left:489.35px;top:563.75px">5,901</span>
<i class="dot" style="left:526.10px;top:565.35px;background:#c0603c"></i><span class="lb" style="left:539.35px;top:563.75px">443</span>
<i class="dot" style="left:566.10px;top:565.35px;background:#663cc0"></i><span class="lb" style="left:579.35px;top:563.75px">3,306</span>
<i class="dot" style="left:616.10px;top:565.35px;background:#3ca5c0"></i><span class="lb" style="left:629.35px;top:563.75px">1,433</span>
<i class="dot" style="left:666.10px;top:565.35px;background:#3c50c0"></i><span class="lb" style="left:679.35px;top:563.75px">8,888</span>
<i class="dot" style="left:716.10px;top:565.35px;background:#c04f3c"></i><span class="lb" style="left:729.35px;top:563.75px">53</span>
<i class="dot" style="left:749.10px;top:565.35px;background:#64c03c"></i><span class="lb" style="left:762.35px;top:563.75px">500</span>
<i class="dot" style="left:789.10px;top:565.35px;background:#9b3cc0"></i><span class="lb" style="left:802.35px;top:563.75px">8,000</span>
<i class="dot" style="left:839.10px;top:565.35px;background:#c03c9b"></i><span class="lb" style="left:852.35px;top:563.75px">25</span>
<i class="dot" style="left:872.10px;top:565.35px;background:#3cc060"></i><span class="lb" style="left:885.35px;top:563.75px">8,082</span>
<i class="dot" style="left:922.10px;top:565.35px;background:#c0a03c"></i><span class="lb" style="left:935.35px;top:563.75px">139</span>
<i class="dot" style="left:962.10px;top:565.35px;background:#3c58c0"></i><span class="lb" style="left:975.35px;top:563.75px">3,391</span>
<i class="dot" style="left:1012.10px;top:565.35px;background:#c03c3c"></i><span class="lb" style="left:1025.35px;top:563.75px">4,444</span>
<i class="dot" style="left:1062.10px;top:565.35px;background:#3cb8c0"></i><span class="lb" style="left:1075.35px;top:563.75px">10,000</span>
<i class="dot" style="left:1119.10px;top:565.35px;background:#78c03c"></i><span class="lb" style="left:1132.35px;top:563.75px">15</span>
<i class="dot" style="left:1152.10px;top:565.35px;background:#803cc0"></i><span class="lb" style="left:1165.35px;top:563.75px">20</span>
<i class="dot" style="left:1185.10px;top:565.35px;background:#c03c64"></i><span class="lb" style="left:1198.35px;top:563.75px">138</span>
<i class="dot" style="left:1225.10px;top:565.35px;background:#3cc090"></i><span class="lb" style="left:1238.35px;top:563.75px">161</span>
<i class="dot" style="left:1265.10px;top:565.35px;background:#b0c03c"></i><span class="lb" style="left:1278.35px;top:563.75px">514</span>
<i class="dot" style="left:1305.10px;top:565.35px;background:#4a3cc0"></i><span class="lb" style="left:1318.35px;top:563.75px">520</span>
<i class="dot" style="left:1345.10px;top:565.35px;background:#c0743c"></i><span class="lb" style="left:1358.35px;top:563.75px">7,547</span>
<i class="dot" style="left:1395.10px;top:565.35px;background:#3c8cc0"></i><span class="lb" style="left:1408.35px;top:563.75px">111</span>
<i class="dot" style="left:1435.10px;top:565.35px;background:#44c03c"></i><span class="lb" style="left:1448.35px;top:563.75px">9,000</span>
<i class="dot" style="left:1485.10px;top:565.35px;background:#bc3cc0"></i><span class="lb" style="left:1498.35px;top:563.75px">43</span>
<i class="dot" style="left:1518.10px;top:565.35px;background:#c03cbc"></i><span class="lb" style="left:1531.35px;top:563.75px">88</span>
<i class="dot" style="left:1551.10px;top:565.35px;background:#3cc048"></i><span class="lb" style="left:1564.35px;top:563.75px">990</span>
<i class="dot" style="left:1591.10px;top:565.35px;background:#c08a3c"></i><span class="lb" style="left:1604.35px;top:563.75px">1,900</span>
<i class="dot" style="left:1641.10px;top:565.35px;background:#3c78c0"></i><span class="lb" style="left:1654.35px;top:563.75px">6,379</span>
<i class="dot" style="left:41.10px;top:586.45px;background:#c03c58"></i><span class="lb" style="left:54.35px;top:584.85px">9,200</span>
<i class="dot" style="left:91.10px;top:586.45px;background:#3cc0a8"></i><span class="lb" style="left:104.35px;top:584.85px">8,118</span>
<i class="dot" style="left:141.10px;top:586.45px;background:#90c03c"></i><span class="lb" style="left:154.35px;top:584.85px">623</span>
<i class="dot" style="left:181.10px;top:586.45px;background:#643cc0"></i><span class="lb" style="left:194.35px;top:584.85px">444</span>
<i class="dot" style="left:221.10px;top:586.45px;background:#c03c90"></i><span class="lb" style="left:234.35px;top:584.85px">513</span>
<i class="dot" style="left:261.10px;top:586.45px;background:#3cc070"></i><span class="lb" style="left:274.35px;top:584.85px">8,081</span>
<i class="dot" style="left:311.10px;top:586.45px;background:#c0b03c"></i><span class="lb" style="left:324.35px;top:584.85px">587</span>
<i class="dot" style="left:351.10px;top:586.45px;background:#3c44c0"></i><span class="lb" style="left:364.35px;top:584.85px">3,380</span>
<i class="dot" style="left:401.10px;top:586.45px;background:#c0583c"></i><span class="lb" style="left:414.35px;top:584.85px">109</span>
<i class="dot" style="left:441.10px;top:586.45px;background:#3ca8c0"></i><span class="lb" style="left:454.35px;top:584.85px">4,000</span>
<i class="dot" style="left:491.10px;top:586.45px;background:#6cc03c"></i><span class="lb" style="left:504.35px;top:584.85px">993</span>
<i class="dot" style="left:531.10px;top:586.45px;background:#983cc0"></i><span class="lb" style="left:544.35px;top:584.85px">902</span>
<i class="dot" style="left:571.10px;top:586.45px;background:#c03c98"></i><span class="lb" style="left:584.35px;top:584.85px">135</span>
</div>
</div>
</body></html>
